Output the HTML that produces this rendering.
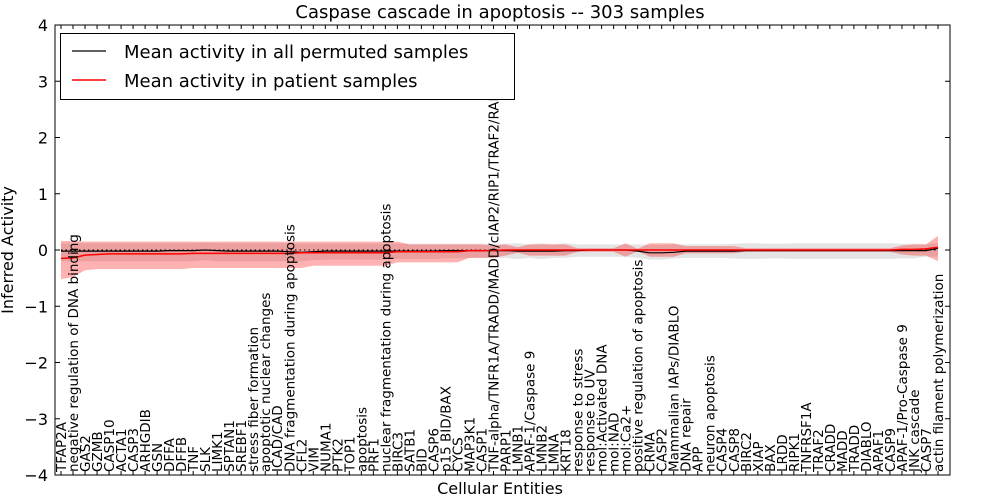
<!DOCTYPE html>
<html><head><meta charset="utf-8"><style>
html,body{margin:0;padding:0;background:#fff;}
svg{display:block;font-family:"DejaVu Sans","Liberation Sans",sans-serif;}
</style></head><body>
<svg id="chart" width="1000" height="500" viewBox="0 0 1000 500">
<rect x="0" y="0" width="1000" height="500" fill="#fff"/>
<text x="500" y="18" text-anchor="middle" font-size="18">Caspase cascade in apoptosis -- 303 samples</text>
<g id="plot"></g>
<text x="500" y="494" text-anchor="middle" font-size="16">Cellular Entities</text>
<text transform="translate(13,250) rotate(-90)" text-anchor="middle" font-size="16">Inferred Activity</text>
</svg>
<script>
const categories = ["TFAP2A","negative regulation of DNA binding","GAS2","GZMB","CASP10","ACTA1","CASP3","ARHGDIB","GSN","DFFA","DFFB","TNF","SLK","LIMK1","SPTAN1","SREBF1","stress fiber formation","apoptotic nuclear changes","ICAD/CAD","DNA fragmentation during apoptosis","CFL2","VIM","NUMA1","PTK2","TOP1","apoptosis","PRF1","nuclear fragmentation during apoptosis","BIRC3","SATB1","BID","CASP6","p15 BID/BAX","CYCS","MAP3K1","CASP1","TNF-alpha/TNFR1A/TRADD/MADD/cIAP2/RIP1/TRAF2/RAIDD","PARP1","LMNB1","APAF-1/Caspase 9","LMNB2","LMNA","KRT18","response to stress","response to UV","mol:Activated DNA","mol:NAD","mol:Ca2+","positive regulation of apoptosis","CRMA","CASP2","Mammalian IAPs/DIABLO","DNA repair","APP","neuron apoptosis","CASP4","CASP8","BIRC2","XIAP","BAX","LRDD","RIPK1","TNFRSF1A","TRAF2","CRADD","MADD","TRADD","DIABLO","APAF1","CASP9","APAF-1/Pro-Caspase 9","JNK cascade","CASP7","actin filament polymerization"];
const patMean = [-0.15,-0.14,-0.09,-0.08,-0.07,-0.07,-0.07,-0.07,-0.07,-0.07,-0.07,-0.06,-0.06,-0.06,-0.06,-0.06,-0.06,-0.06,-0.06,-0.06,-0.05,-0.05,-0.05,-0.05,-0.05,-0.05,-0.05,-0.05,-0.03,-0.03,-0.03,-0.03,-0.03,-0.03,-0.01,-0.01,-0.01,0,0,0,0,0,0,0,0,0,0,0,0,0,0,0,0,0,0,0,0,0,0,0,0,0,0,0,0,0,0,0,0,0,0.01,0.01,0.02,0.05];
const patHi = [0.16,0.16,0.15,0.15,0.15,0.15,0.15,0.15,0.15,0.15,0.15,0.15,0.15,0.15,0.15,0.15,0.15,0.15,0.15,0.15,0.15,0.15,0.15,0.15,0.15,0.15,0.15,0.15,0.15,0.1,0.1,0.1,0.1,0.1,0.1,0.1,0.08,0.1,0.05,0.1,0.1,0.1,0.1,0.03,0.03,0.03,0.03,0.12,0.02,0.12,0.12,0.12,0.07,0.07,0.07,0.07,0.07,0.03,0.03,0.03,0.03,0.03,0.03,0.03,0.03,0.03,0.03,0.03,0.03,0.03,0.08,0.1,0.1,0.25];
const patLo = [-0.52,-0.48,-0.36,-0.34,-0.34,-0.34,-0.34,-0.34,-0.34,-0.34,-0.34,-0.32,-0.32,-0.32,-0.32,-0.32,-0.32,-0.32,-0.32,-0.32,-0.32,-0.28,-0.28,-0.28,-0.28,-0.28,-0.28,-0.28,-0.22,-0.22,-0.22,-0.22,-0.22,-0.22,-0.14,-0.14,-0.14,-0.1,-0.05,-0.1,-0.1,-0.1,-0.1,-0.03,-0.03,-0.03,-0.03,-0.12,-0.02,-0.12,-0.12,-0.12,-0.06,-0.06,-0.06,-0.06,-0.06,-0.03,-0.03,-0.03,-0.03,-0.03,-0.03,-0.03,-0.03,-0.03,-0.03,-0.03,-0.03,-0.03,-0.08,-0.1,-0.1,-0.2];
const permMean = [-0.02,-0.02,-0.02,-0.02,-0.02,-0.02,-0.02,-0.02,-0.02,-0.01,-0.01,-0.01,0,-0.01,-0.02,-0.02,-0.02,-0.02,-0.02,-0.03,-0.04,-0.03,-0.02,-0.02,-0.02,-0.02,-0.02,-0.02,-0.02,-0.02,-0.02,-0.02,-0.01,-0.01,-0.01,-0.01,-0.01,-0.01,-0.02,-0.02,-0.02,-0.02,-0.01,-0.01,0,0,0,0,-0.02,-0.05,-0.05,-0.04,-0.02,-0.02,-0.02,-0.02,-0.02,-0.01,-0.01,-0.01,-0.01,-0.01,-0.01,-0.01,-0.01,-0.01,-0.01,-0.01,-0.01,-0.01,-0.01,-0.01,-0.01,0.03];
const permHi = [0.12,0.12,0.12,0.12,0.12,0.12,0.12,0.12,0.12,0.12,0.12,0.12,0.13,0.12,0.12,0.12,0.12,0.12,0.12,0.12,0.11,0.11,0.11,0.11,0.11,0.11,0.11,0.11,0.11,0.11,0.11,0.11,0.11,0.11,0.11,0.11,0.11,0.11,0.12,0.1,0.12,0.1,0.12,0.1,0.1,0.1,0.1,0.1,0.1,0.09,0.09,0.1,0.1,0.1,0.1,0.1,0.11,0.12,0.12,0.11,0.11,0.12,0.12,0.12,0.12,0.12,0.12,0.12,0.12,0.12,0.11,0.11,0.1,0.12];
const permLo = [-0.2,-0.2,-0.2,-0.2,-0.2,-0.2,-0.2,-0.2,-0.2,-0.2,-0.2,-0.2,-0.18,-0.2,-0.2,-0.2,-0.2,-0.2,-0.2,-0.2,-0.2,-0.18,-0.17,-0.17,-0.17,-0.17,-0.17,-0.17,-0.16,-0.16,-0.16,-0.16,-0.15,-0.15,-0.14,-0.14,-0.14,-0.14,-0.16,-0.14,-0.16,-0.14,-0.14,-0.12,-0.12,-0.12,-0.12,-0.12,-0.14,-0.17,-0.17,-0.15,-0.14,-0.14,-0.14,-0.14,-0.15,-0.16,-0.16,-0.15,-0.15,-0.16,-0.16,-0.16,-0.16,-0.16,-0.16,-0.16,-0.16,-0.16,-0.15,-0.15,-0.12,-0.12];
const yTicks = [-4,-3,-2,-1,0,1,2,3,4];

const L=55,R=950,T=25,B=475;
const xs = i => L + (i+0.5)*(R-L)/74.5;
const ys = v => T + (4 - v)*(B-T)/8;
const NS="http://www.w3.org/2000/svg";
const plot=document.getElementById('plot');
function mk(tag,attrs,parent){const e=document.createElementNS(NS,tag);for(const k in attrs)e.setAttribute(k,attrs[k]);(parent||plot).appendChild(e);return e;}
function band(lo,hi){let d='';hi.forEach((v,i)=>{d+=(i?'L':'M')+xs(i).toFixed(1)+','+ys(v).toFixed(1);});for(let i=lo.length-1;i>=0;i--)d+='L'+xs(i).toFixed(1)+','+ys(lo[i]).toFixed(1);return d+'Z';}
function line(arr){return arr.map((v,i)=>(i?'L':'M')+xs(i).toFixed(1)+','+ys(v).toFixed(1)).join('');}

const g1=mk('path',{d:band(permLo,permHi),fill:'#bbbbbb','fill-opacity':'0.4',stroke:'none'});


const r1=mk('path',{d:band(patLo,patHi),fill:'#ff0000','fill-opacity':'0.3',stroke:'none'});


const z=mk('line',{x1:xs(0),x2:xs(73),y1:ys(0),y2:ys(0),stroke:'#000','stroke-width':1,'stroke-dasharray':'1.5,3'});


const pl=mk('path',{d:line(permMean),fill:'none',stroke:'#000','stroke-width':1.2});


const rl=mk('path',{d:line(patMean),fill:'none',stroke:'#ff0000','stroke-width':1.5});



yTicks.forEach(t=>{
  const y=ys(t);
  mk('line',{x1:L,x2:L+5,y1:y,y2:y,stroke:'#000'});
  mk('line',{x1:R-5,x2:R,y1:y,y2:y,stroke:'#000'});
  const tx=mk('text',{x:L-7,y:y+6,'text-anchor':'end','font-size':16});
  tx.textContent=(t<0?'\u2212':'')+Math.abs(t);
  
  
});
categories.forEach((c,i)=>{
  const x=xs(i);
  mk('line',{x1:x,x2:x,y1:B,y2:B-4,stroke:'#000'});
  mk('line',{x1:x,x2:x,y1:T,y2:T+4,stroke:'#000'});
  const tx=mk('text',{transform:`translate(${(x+5).toFixed(1)},472) rotate(-90)`,'font-size':13.5});
  tx.textContent=c;
  
  
});
const frame=mk('rect',{x:L,y:T,width:R-L,height:B-T,fill:'none',stroke:'#000','stroke-width':1});



const lg=mk('g',{});


mk('rect',{x:60.5,y:33.5,width:454,height:66,fill:'#fff',stroke:'#000'},lg);
mk('line',{x1:72,x2:106,y1:51,y2:51,stroke:'#000','stroke-width':1.2},lg);
const t1=mk('text',{x:124,y:58,'font-size':18},lg);
t1.textContent='Mean activity in all permuted samples';


mk('line',{x1:72,x2:106,y1:80,y2:80,stroke:'#ff0000','stroke-width':1.5},lg);
const t2=mk('text',{x:124,y:87,'font-size':18},lg);
t2.textContent='Mean activity in patient samples';


</script>
</body></html>
